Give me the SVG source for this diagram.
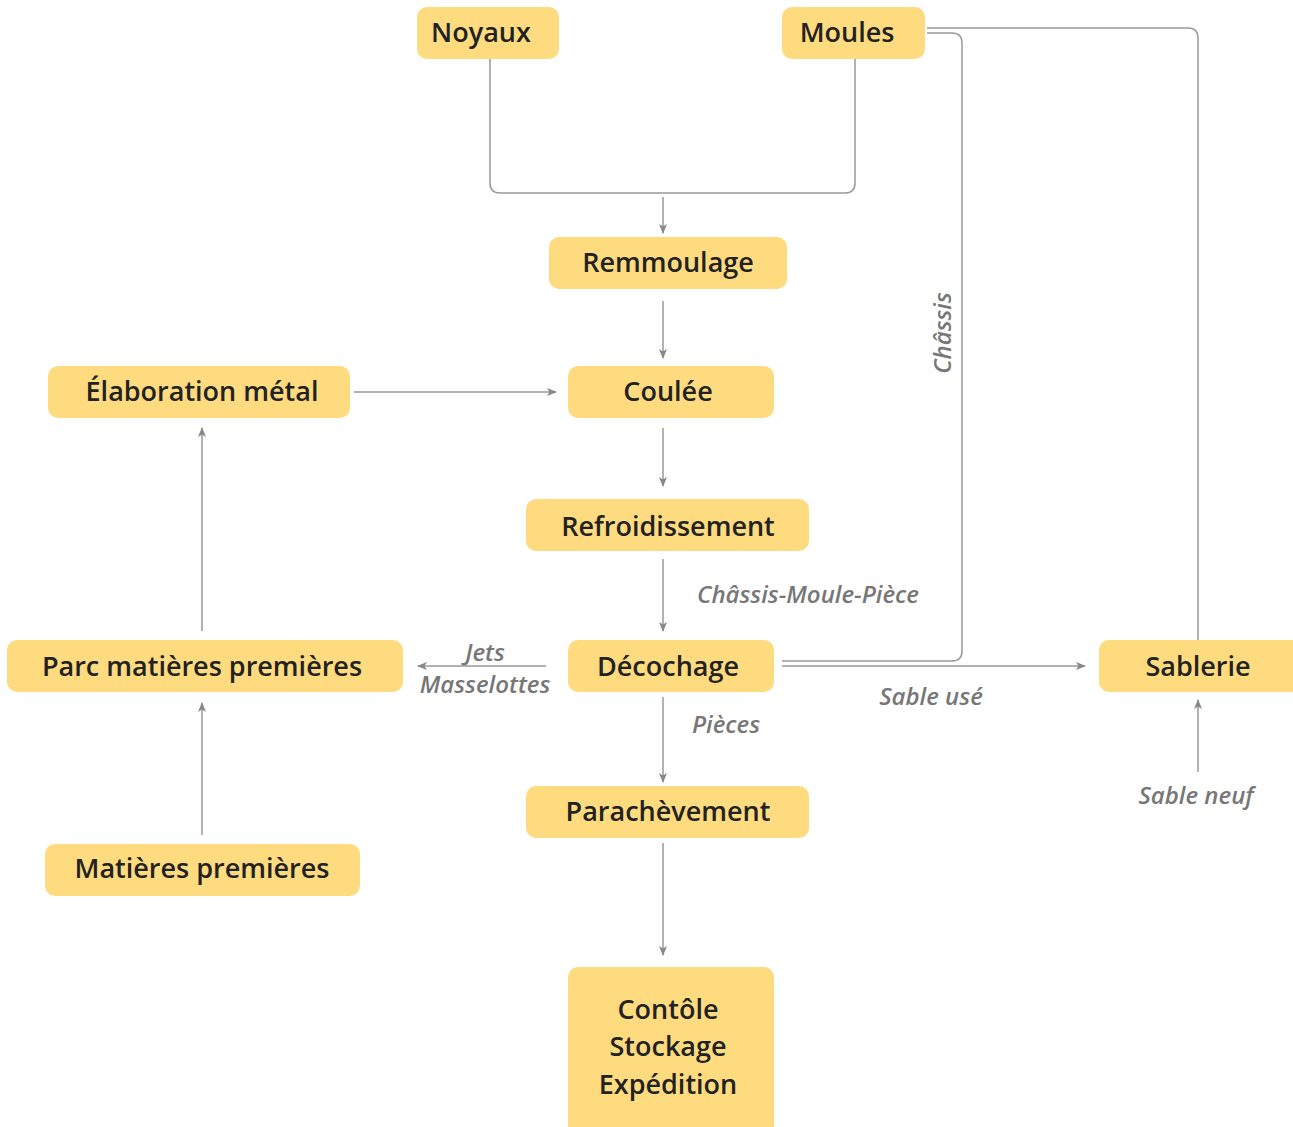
<svg xmlns="http://www.w3.org/2000/svg" width="1293" height="1127" viewBox="0 0 1293 1127">
<defs>
<marker id="arr" viewBox="0 0 10 10" refX="9" refY="5" markerWidth="10" markerHeight="10" markerUnits="userSpaceOnUse" orient="auto">
<path d="M0,1 L10,5 L0,9 L2.5,5 Z" fill="#888"/>
</marker>
<style>
.box{fill:#FFDB7F;}
.t{font-family:"Open Sans","Noto Sans",sans-serif;font-weight:600;font-size:27px;fill:#222;text-anchor:middle;dominant-baseline:central;}
.l{font-family:"Open Sans","Noto Sans",sans-serif;font-style:italic;font-weight:600;font-size:24px;fill:#777;text-anchor:middle;dominant-baseline:central;}
.c{fill:none;stroke:#999;stroke-width:1.5;}
.a{fill:none;stroke:#999;stroke-width:1.5;marker-end:url(#arr);}
</style>
</defs>
<rect width="1293" height="1127" fill="#fff"/>
<g id="connectors">
<path class="c" d="M490,59 V183 Q490,193 500,193 H845 Q855,193 855,183 V59"/>
<path class="a" d="M663,197 V233"/>
<path class="a" d="M663,301 V358"/>
<path class="a" d="M663,428 V486"/>
<path class="a" d="M663,559 V631"/>
<path class="a" d="M663,697 V782"/>
<path class="a" d="M663,843 V955"/>
<path class="a" d="M354,392 H556"/>
<path class="a" d="M202,631 V428"/>
<path class="a" d="M202,835 V703"/>
<path class="a" d="M546,666 H418"/>
<path class="a" d="M782,666 H1085"/>
<path class="a" d="M1198,772 V700"/>
<path class="c" d="M927,28 H1188 Q1198,28 1198,38 V640"/>
<path class="c" d="M927,33 H952 Q962,33 962,43 V651 Q962,661 952,661 H782"/>
<text class="l" x="808" y="593">Châssis-Moule-Pièce</text>
<text class="l" x="726" y="723">Pièces</text>
<text class="l" x="931" y="695">Sable usé</text>
<text class="l" x="1196" y="794">Sable neuf</text>
<text class="l" x="485" y="651">Jets</text>
<text class="l" x="485" y="683">Masselottes</text>
<text class="l" x="941" y="333" transform="rotate(-90 941 333)">Châssis</text>
</g>
<g id="noyaux"><rect class="box" x="417" y="7" width="142" height="52" rx="10"/><text class="t" x="481" y="31">Noyaux</text></g>
<g id="moules"><rect class="box" x="782" y="7" width="143" height="52" rx="10"/><text class="t" x="847" y="31">Moules</text></g>
<g id="remmoulage"><rect class="box" x="549" y="237" width="238" height="52" rx="10"/><text class="t" x="668" y="261">Remmoulage</text></g>
<g id="elaboration"><rect class="box" x="48" y="366" width="302" height="52" rx="10"/><text class="t" x="202" y="390">Élaboration métal</text></g>
<g id="coulee"><rect class="box" x="568" y="366" width="206" height="52" rx="10"/><text class="t" x="668" y="390">Coulée</text></g>
<g id="refroidissement"><rect class="box" x="526" y="499" width="283" height="52" rx="10"/><text class="t" x="668" y="525">Refroidissement</text></g>
<g id="parc"><rect class="box" x="7" y="640" width="396" height="52" rx="10"/><text class="t" x="202" y="665">Parc matières premières</text></g>
<g id="decochage"><rect class="box" x="568" y="640" width="206" height="52" rx="10"/><text class="t" x="668" y="665">Décochage</text></g>
<g id="sablerie"><rect class="box" x="1099" y="640" width="210" height="52" rx="10"/><text class="t" x="1198" y="665">Sablerie</text></g>
<g id="parachevement"><rect class="box" x="526" y="786" width="283" height="52" rx="10"/><text class="t" x="668" y="810">Parachèvement</text></g>
<g id="matieres"><rect class="box" x="45" y="844" width="315" height="52" rx="10"/><text class="t" x="202" y="867">Matières premières</text></g>
<g id="controle"><rect class="box" x="568" y="967" width="206" height="175" rx="10"/>
<text class="t" x="668" y="1008">Contôle</text><text class="t" x="668" y="1045">Stockage</text><text class="t" x="668" y="1083">Expédition</text></g>
</svg>
